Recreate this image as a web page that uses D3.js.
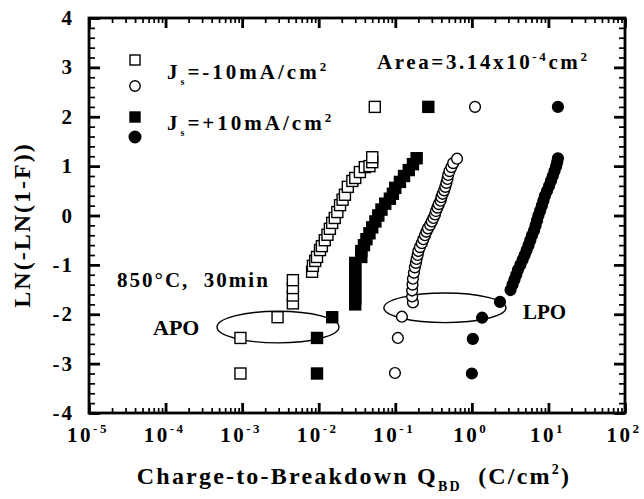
<!DOCTYPE html>
<html>
<head>
<meta charset="utf-8">
<script src="https://cdn.jsdelivr.net/npm/d3@7"></script>
<style>
body { margin: 0; background: #fff; }
text { font-family: "Liberation Serif", "Times New Roman", serif; font-weight: bold; fill: #000; white-space: pre; }
</style>
</head>
<body>
<svg width="644" height="499"></svg>
<script>
// Js = -10 mA/cm2, open squares (APO) and open circles (LPO)
var negApoQ = [0.95e-3, 0.95e-3, 2.9e-3, 4.6e-3, 4.6e-3, 4.6e-3, 4.6e-3, 8.2e-3, 8.4e-3, 9.0e-3, 9.5e-3, 1.04e-2, 1.1e-2, 1.2e-2, 1.3e-2, 1.4e-2, 1.5e-2, 1.62e-2, 1.75e-2, 1.9e-2, 2.05e-2, 2.2e-2, 2.4e-2, 2.75e-2, 3.0e-2, 3.45e-2, 4.0e-2, 4.6e-2, 5.0e-2, 5.0e-2, 5.4e-2];
var negApoY = [-3.2, -2.48, -2.06, -1.78, -1.62, -1.47, -1.31, -1.14, -1.02, -0.92, -0.84, -0.70, -0.62, -0.50, -0.39, -0.27, -0.15, -0.05, 0.07, 0.21, 0.32, 0.42, 0.58, 0.70, 0.76, 0.88, 0.98, 1.0, 1.08, 1.18, 2.2];

var negLpoQ = [0.099, 0.108, 0.122, 0.170, 0.166, 0.166, 0.168, 0.170, 0.175, 0.180, 0.186, 0.19, 0.196, 0.20, 0.21, 0.222, 0.232, 0.244, 0.255, 0.267, 0.285, 0.30, 0.315, 0.33, 0.34, 0.355, 0.37, 0.39, 0.40, 0.415, 0.435, 0.45, 0.465, 0.48, 0.49, 0.51, 0.54, 0.57, 0.64, 1.1];
var negLpoY = [-3.19, -2.48, -2.05, -1.76, -1.64, -1.52, -1.40, -1.28, -1.16, -1.05, -0.96, -0.88, -0.80, -0.72, -0.64, -0.56, -0.48, -0.40, -0.33, -0.26, -0.19, -0.12, -0.05, 0.02, 0.09, 0.16, 0.23, 0.30, 0.37, 0.44, 0.51, 0.58, 0.66, 0.74, 0.82, 0.90, 0.98, 1.06, 1.15, 2.2];

// Js = +10 mA/cm2, filled squares (APO) and filled circles (LPO)
var posApoQ = [9.5e-3, 9.5e-3, 1.5e-2, 3.0e-2, 3.0e-2, 3.0e-2, 3.0e-2, 3.0e-2, 3.0e-2, 3.0e-2, 3.0e-2, 3.6e-2, 3.6e-2, 3.9e-2, 4.2e-2, 4.6e-2, 5.0e-2, 5.5e-2, 6.0e-2, 6.6e-2, 7.4e-2, 8.5e-2, 9.3e-2, 0.10, 0.115, 0.13, 0.15, 0.17, 0.19, 0.27];
var posApoY = [-3.2, -2.48, -2.06, -1.80, -1.68, -1.56, -1.44, -1.32, -1.20, -1.08, -0.96, -0.84, -0.72, -0.60, -0.48, -0.36, -0.24, -0.12, 0.0, 0.12, 0.24, 0.34, 0.44, 0.56, 0.68, 0.80, 0.92, 1.04, 1.16, 2.2];

var posLpoQ = [1.0, 1.03, 1.36, 2.33, 3.2, 3.4, 3.6, 3.8, 4.0, 4.3, 4.6, 4.9, 5.2, 5.5, 5.8, 6.1, 6.5, 6.8, 7.1, 7.4, 7.8, 8.2, 8.6, 9.0, 9.6, 10.2, 10.8, 11.4, 12.0, 12.6, 13.0, 13.3, 13.3];
var posLpoY = [-3.2, -2.5, -2.07, -1.75, -1.51, -1.40, -1.30, -1.20, -1.10, -1.0, -0.90, -0.80, -0.70, -0.60, -0.50, -0.40, -0.30, -0.20, -0.10, 0.0, 0.10, 0.20, 0.30, 0.40, 0.50, 0.60, 0.70, 0.80, 0.90, 1.0, 1.08, 1.16, 2.2];

var xExps = [-5, -4, -3, -2, -1, 0, 1, 2];
var yTicks = [-4, -3, -2, -1, 0, 1, 2, 3, 4];

// ellipses grouping the APO / LPO points: [Q centre, y centre, Q left, y half-height]
var apoRing = [2.94e-3, -2.26, 4.7e-4, 0.32];
var lpoRing = [0.445, -1.87, 0.071, 0.30];

var svg = d3.select("svg");
var pL = 89, pR = 625, pT = 18, pB = 413;

var x = d3.scaleLog().domain([1e-5, 1e2]).range([pL, pR]);
var y = d3.scaleLinear().domain([-4, 4]).range([pB, pT]);

function isMajor(v) { var l = Math.log10(v); return Math.abs(l - Math.round(l)) < 1e-6; }
var xAll = x.ticks();
var yAll = d3.range(-4, 4.001, 0.2).map(function(v){ return Math.round(v * 10) / 10; });

// axes: ticks point inward on all four sides
function styleTicks(g, maj) {
  g.select(".domain").remove();
  g.selectAll(".tick line").attr("stroke", "#000")
    .attr("stroke-width", function(d){ return maj(d) ? 2.8 : 1.7; });
}
var gB = svg.append("g").attr("transform", "translate(0," + pB + ")")
  .call(d3.axisBottom(x).tickValues(xAll).tickFormat("").tickSizeOuter(0));
gB.selectAll(".tick line").attr("y2", function(d){ return isMajor(d) ? -10 : -5; });
styleTicks(gB, isMajor);
var gT = svg.append("g").attr("transform", "translate(0," + pT + ")")
  .call(d3.axisTop(x).tickValues(xAll).tickFormat("").tickSizeOuter(0));
gT.selectAll(".tick line").attr("y2", function(d){ return isMajor(d) ? 10 : 5; });
styleTicks(gT, isMajor);

function yMaj(d) { return Math.abs(d - Math.round(d)) < 1e-6; }
var gL = svg.append("g").attr("transform", "translate(" + pL + ",0)")
  .call(d3.axisLeft(y).tickValues(yAll).tickFormat("").tickSizeOuter(0));
gL.selectAll(".tick line").attr("x2", function(d){ return yMaj(d) ? 11 : 6; });
styleTicks(gL, yMaj);
var gR = svg.append("g").attr("transform", "translate(" + pR + ",0)")
  .call(d3.axisRight(y).tickValues(yAll).tickFormat("").tickSizeOuter(0));
gR.selectAll(".tick line").attr("x2", function(d){ return yMaj(d) ? -11 : -6; });
styleTicks(gR, yMaj);

svg.append("rect").attr("x", pL).attr("y", pT)
  .attr("width", pR - pL).attr("height", pB - pT)
  .attr("fill", "none").attr("stroke", "#000").attr("stroke-width", 2.8);

// tick labels
xExps.forEach(function(e){
  var t = svg.append("text").attr("x", x(Math.pow(10, e)) - 1).attr("y", 442)
    .attr("text-anchor", "middle").style("font-size", "21px").style("letter-spacing", "2.5px");
  t.append("tspan").text("10");
  t.append("tspan").attr("dy", -9).style("font-size", "13px").text(e < 0 ? "-" + (-e) : String(e));
});
yTicks.forEach(function(v){
  svg.append("text").attr("x", 74).attr("y", y(v) + 7)
    .attr("text-anchor", "end").style("font-size", "21px").style("letter-spacing", "2px")
    .text(v < 0 ? "-" + (-v) : String(v));
});

// axis titles
var xt = svg.append("text").attr("x", 354).attr("y", 484).attr("text-anchor", "middle")
  .style("font-size", "24px").style("letter-spacing", "2.2px");
xt.append("tspan").text("Charge-to-Breakdown Q");
xt.append("tspan").attr("dy", 7).style("font-size", "14px").text("BD");
xt.append("tspan").attr("dy", -7).text("  (C/cm");
xt.append("tspan").attr("dy", -10).style("font-size", "14px").text("2");
xt.append("tspan").attr("dy", 10).text(")");

svg.append("text").attr("transform", "translate(30,225) rotate(-90)")
  .attr("text-anchor", "middle").style("font-size", "24px").style("letter-spacing", "2px")
  .text("LN(-LN(1-F))");

// ellipses
[apoRing, lpoRing].forEach(function(r){
  var cx = x(r[0]), cy = y(r[1]);
  svg.append("ellipse").attr("cx", cx).attr("cy", cy)
    .attr("rx", cx - x(r[2])).attr("ry", y(r[1] - r[3]) - cy)
    .attr("fill", "none").attr("stroke", "#000").attr("stroke-width", 1.4);
});

// markers
function pts(qs, ys) { return qs.map(function(q, i){ return [q, ys[i]]; }); }
function squares(data, fill) {
  svg.append("g").selectAll("rect").data(data).enter().append("rect")
    .attr("x", function(d){ return x(d[0]) - 5.5; })
    .attr("y", function(d){ return y(d[1]) - 5.5; })
    .attr("width", 11).attr("height", 11)
    .attr("fill", fill).attr("stroke", "#000").attr("stroke-width", 1.4);
}
function circles(data, fill) {
  svg.append("g").selectAll("circle").data(data).enter().append("circle")
    .attr("cx", function(d){ return x(d[0]); })
    .attr("cy", function(d){ return y(d[1]); })
    .attr("r", 5.4)
    .attr("fill", fill).attr("stroke", "#000").attr("stroke-width", 1.4);
}
squares(pts(negApoQ, negApoY), "#fff");
squares(pts(posApoQ, posApoY), "#000");
circles(pts(negLpoQ, negLpoY), "#fff");
circles(pts(posLpoQ, posLpoY), "#000");

// legend
var lg = svg.append("g");
lg.append("rect").attr("x", 130).attr("y", 55).attr("width", 10).attr("height", 10)
  .attr("fill", "#fff").attr("stroke", "#000").attr("stroke-width", 1.4);
lg.append("circle").attr("cx", 135).attr("cy", 86).attr("r", 5.2)
  .attr("fill", "#fff").attr("stroke", "#000").attr("stroke-width", 1.4);
lg.append("rect").attr("x", 130).attr("y", 112).attr("width", 10).attr("height", 10)
  .attr("fill", "#000").attr("stroke", "#000").attr("stroke-width", 1.4);
lg.append("circle").attr("cx", 135).attr("cy", 137).attr("r", 5.8)
  .attr("fill", "#000").attr("stroke", "#000").attr("stroke-width", 1.4);

function jsLabel(yy, sign) {
  var t = lg.append("text").attr("x", 167).attr("y", yy)
    .style("font-size", "21px").style("letter-spacing", "3px");
  t.append("tspan").text("J");
  t.append("tspan").attr("dy", 6).style("font-size", "10px").text("s");
  t.append("tspan").attr("dy", -6).text("=" + sign + "10mA/cm");
  t.append("tspan").attr("dy", -8).style("font-size", "13px").text("2");
}
jsLabel(79, "-");
jsLabel(130, "+");

var at = svg.append("text").attr("x", 377).attr("y", 69)
  .style("font-size", "21px").style("letter-spacing", "2.6px");
at.append("tspan").text("Area=3.14x10");
at.append("tspan").attr("dy", -8).style("font-size", "13px").text("-4");
at.append("tspan").attr("dy", 8).text("cm");
at.append("tspan").attr("dy", -8).style("font-size", "13px").text("2");

svg.append("text").attr("x", 117).attr("y", 287).style("font-size", "21px")
  .style("letter-spacing", "2px").text("850°C,  30min");
svg.append("text").attr("x", 153).attr("y", 335).style("font-size", "22px").text("APO");
svg.append("text").attr("x", 523).attr("y", 319).style("font-size", "21px").text("LPO");
</script>
</body>
</html>
